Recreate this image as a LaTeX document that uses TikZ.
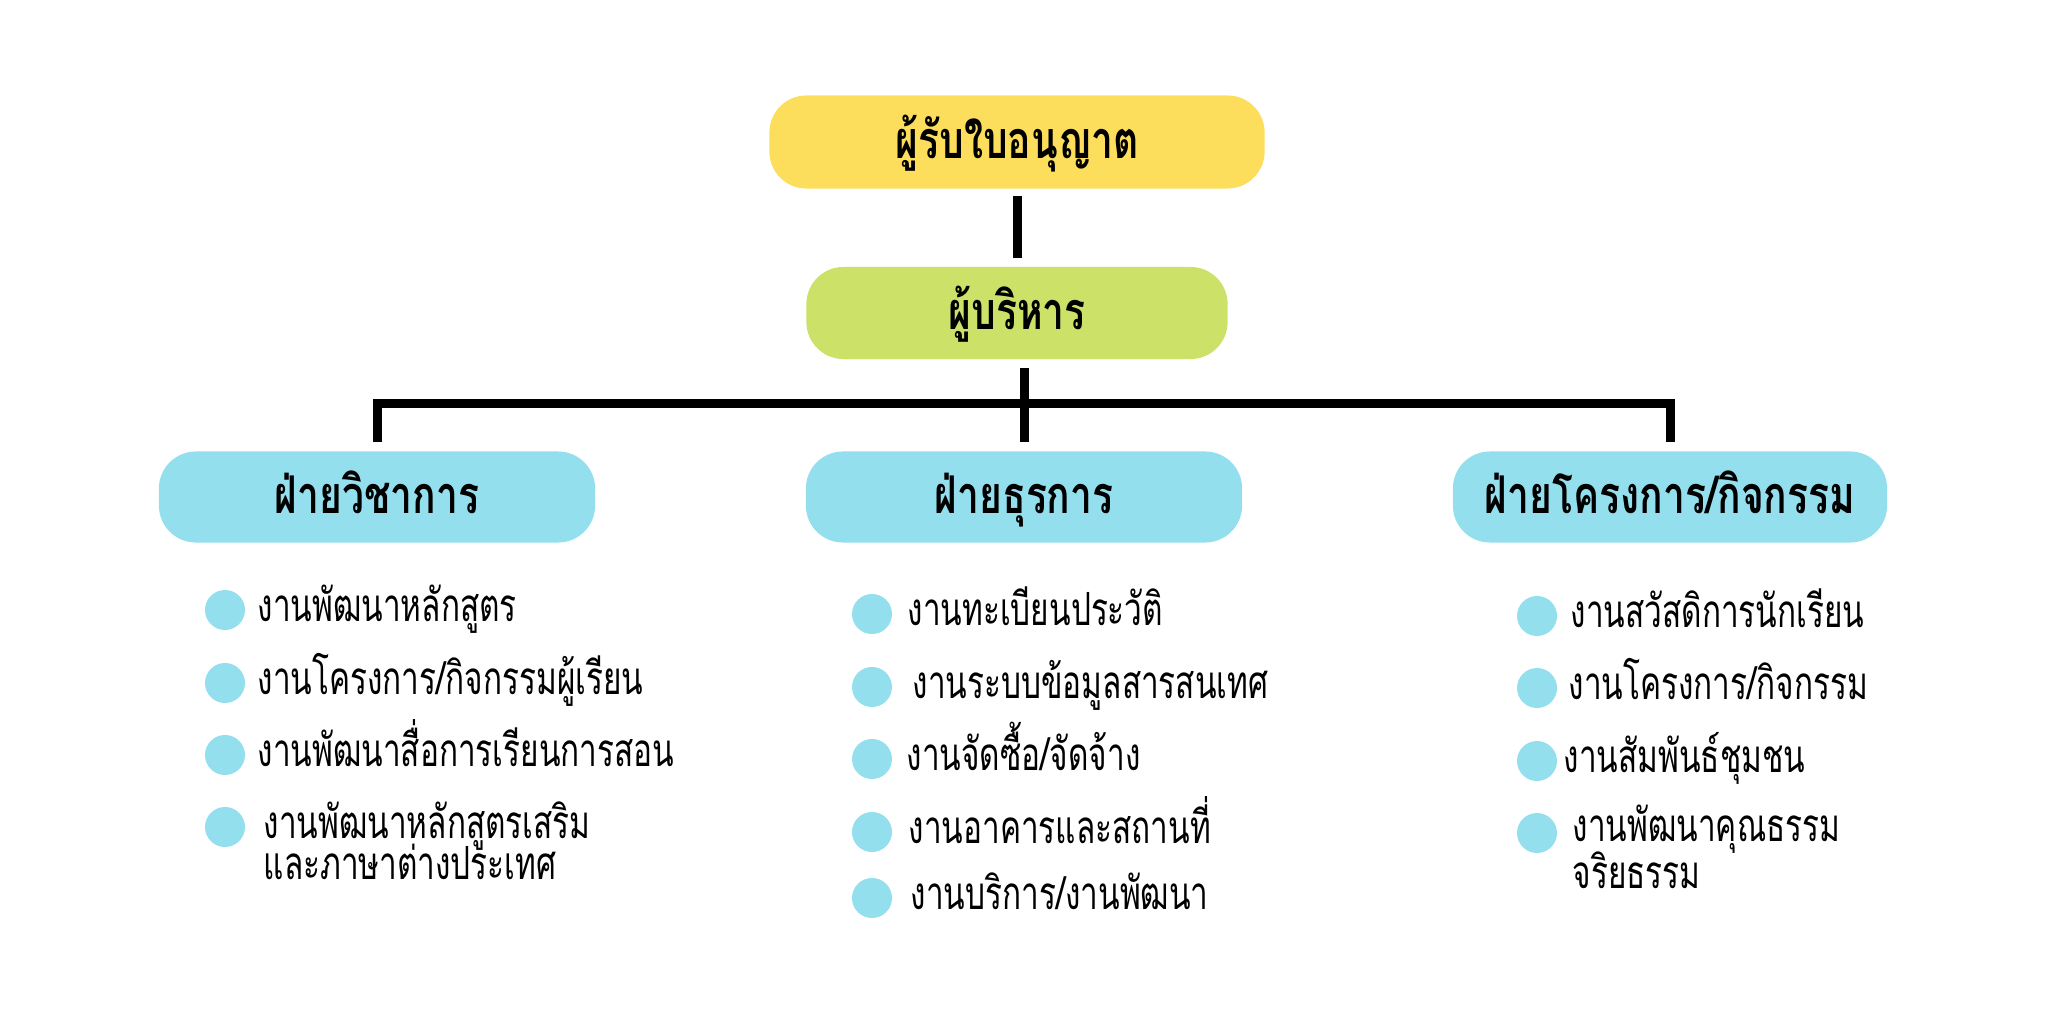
\documentclass[tikz,border=0pt]{standalone}
\usepackage{fontspec}
\usepackage{xcolor}
\usepackage{tikz}
\usetikzlibrary{positioning}
\newfontfamily\thaifont[Script=Thai,FakeStretch=0.69]{Loma}
\newfontfamily\thaihead[Script=Thai,FakeStretch=0.75]{Loma}

\definecolor{yellowbox}{HTML}{FDDD5C}
\definecolor{greenbox}{HTML}{CBE168}
\definecolor{bluebox}{HTML}{94DFEE}

\tikzset{
	box/.style={rounded corners=0.37cm, minimum height=0.91cm, inner sep=0pt,
		text height=0.32cm, text depth=0pt,
		font=\thaihead\bfseries\fontsize{14.8}{18}\selectfont},
	bullet/.style={circle, fill=bluebox, minimum size=0.4cm, inner sep=0pt},
	item/.style={anchor=base west, inner sep=0pt, align=left,
		font=\thaifont\fontsize{13}{11.7}\selectfont},
	link/.style={black, line width=2.56pt}
}

\begin{document}
\begin{tikzpicture}[x=0.01cm,y=-0.01cm]
	
	% Marco
	\useasboundingbox (0,0) rectangle (2048,1024);
	
	% Cajas
	\node[box, fill=yellowbox, minimum width=4.95cm, minimum height=0.93cm] (licensee) at (1017,142) {ผู้รับใบอนุญาต};
	\node[box, fill=greenbox, minimum width=4.21cm, minimum height=0.92cm] (admin) at (1017,313) {ผู้บริหาร};
	\node[box, fill=bluebox, minimum width=4.36cm] (academic) at (377,497) {ฝ่ายวิชาการ};
	\node[box, fill=bluebox, minimum width=4.36cm] (business) at (1024,497) {ฝ่ายธุรการ};
	\node[box, fill=bluebox, minimum width=4.34cm] (activity) at (1670,497) {ฝ่ายโครงการ/กิจกรรม};
	
	% Lineas
	\draw[link, shorten <=0.07cm, shorten >=0.08cm] (licensee.south) -- (admin.north);
	\draw[link, shorten <=0.08cm, shorten >=0.09cm] (business.north |- admin.south) -- (business.north);
	\draw[link, shorten <=0.09cm, shorten >=0.09cm] (academic.north) -- ++(0,-47) -| (activity.north);
	
	% Ramas (\dy: segunda linea)
	\foreach \yb/\xt/\dy/\txt [count=\i] in {
		610/257/0/{งานพัฒนาหลักสูตร},
		683/257/0/{งานโครงการ/กิจกรรมผู้เรียน},
		755/257/0/{งานพัฒนาสื่อการเรียนการสอน},
		827/263/41/{งานพัฒนาหลักสูตรเสริม\\[-2.8pt]และภาษาต่างประเทศ}}{
		\node[bullet] (ab\i) at (225,\yb) {};
		\node[item] (at\i) at (\xt,\yb+11+\dy) {\txt};
	}
	\foreach \yb/\xt/\txt [count=\i] in {
		614/907/{งานทะเบียนประวัติ},
		687/912/{งานระบบข้อมูลสารสนเทศ},
		759/906/{งานจัดซื้อ/จัดจ้าง},
		832/908/{งานอาคารและสถานที่},
		898/910/{งานบริการ/งานพัฒนา}}{
		\node[bullet] (bb\i) at (872,\yb) {};
		\node[item] (bt\i) at (\xt,\yb+11) {\txt};
	}
	\foreach \yb/\xt/\dy/\txt [count=\i] in {
		616/1570/0/{งานสวัสดิการนักเรียน},
		688/1568/0/{งานโครงการ/กิจกรรม},
		761/1563/0/{งานสัมพันธ์ชุมชน},
		833/1572/44/{งานพัฒนาคุณธรรม\\[-1.6pt]จริยธรรม}}{
		\node[bullet] (cb\i) at (1537,\yb) {};
		\node[item] (ct\i) at (\xt,\yb+11+\dy) {\txt};
	}
	
\end{tikzpicture}
\end{document}
